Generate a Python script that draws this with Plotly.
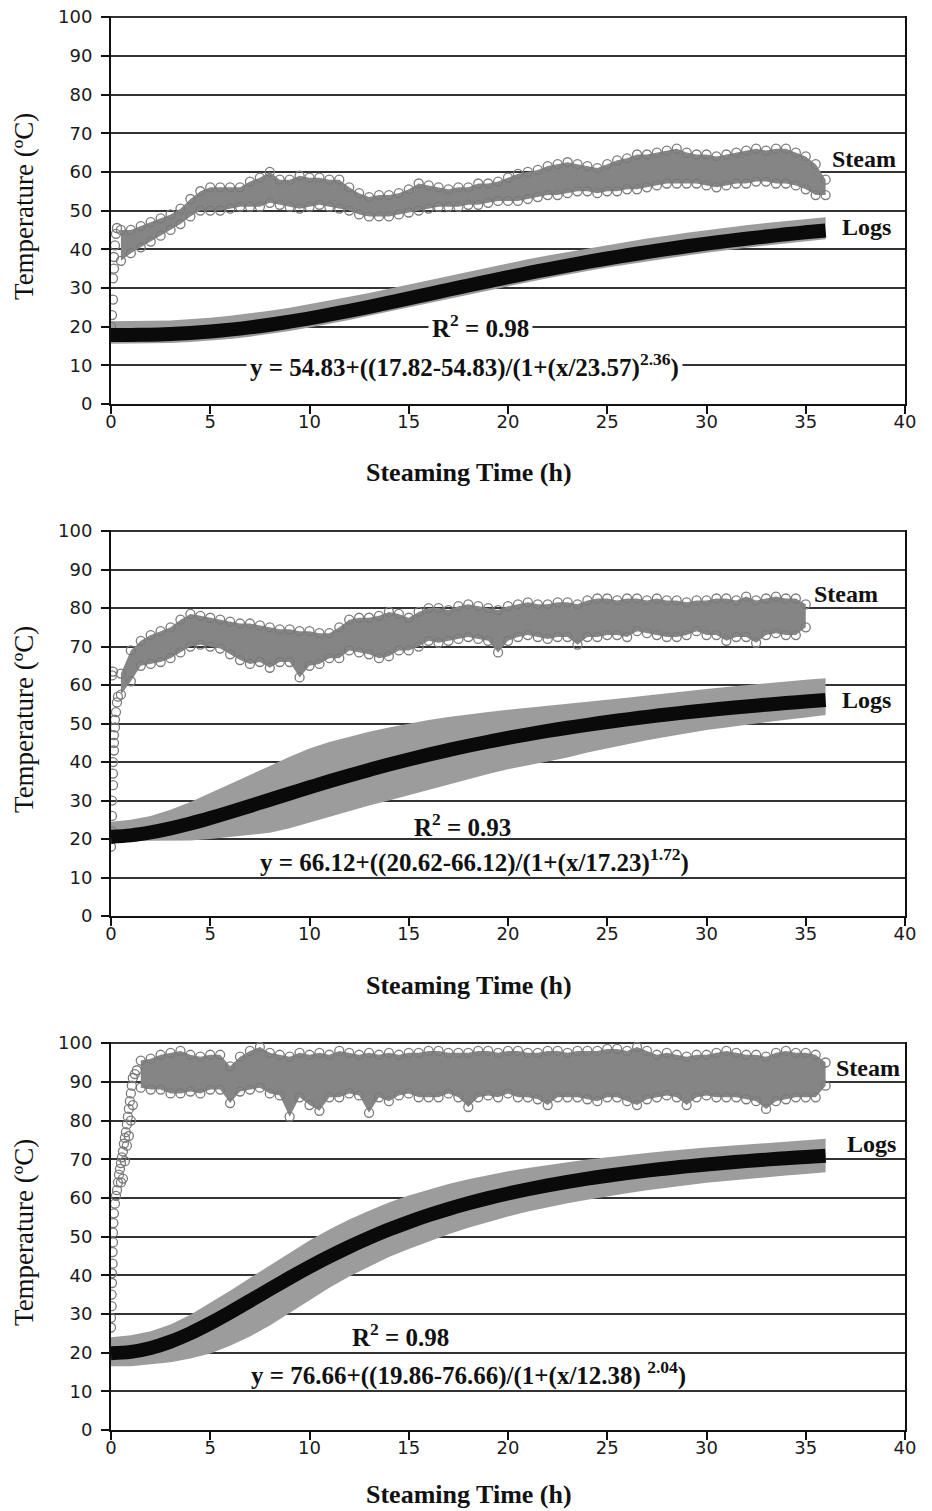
import plotly.graph_objects as go

# ---------------- data ----------------
hours = list(range(37))
x_ticks = [0, 5, 10, 15, 20, 25, 30, 35, 40]
x_ticklabels = ["0", "5", "10", "15", "20", "25", "30", "35", "40"]
y_ticks = [0, 10, 20, 30, 40, 50, 60, 70, 80, 90, 100]
y_ticklabels = [str(v) for v in y_ticks]

# Panel 1 -------------------------------------------------------------
logs1_fit = [17.82, 17.84, 17.93, 18.10, 18.37, 18.75, 19.23, 19.81, 20.50, 21.28, 22.14, 23.08, 24.07,
             25.12, 26.20, 27.30, 28.41, 29.53, 30.63, 31.72, 32.78, 33.82, 34.83, 35.79, 36.72, 37.61,
             38.46, 39.27, 40.04, 40.77, 41.45, 42.11, 42.73, 43.31, 43.86, 44.38, 44.87]
logs1_lo = [15.6, 15.6, 15.7, 15.8, 16.0, 16.4, 16.8, 17.4, 18.1, 18.9, 19.8, 20.7, 21.7, 22.8, 23.9,
            24.9, 26.1, 27.2, 28.3, 29.4, 30.5, 31.5, 32.5, 33.5, 34.4, 35.3, 36.1, 36.9, 37.7, 38.4,
            39.1, 39.8, 40.4, 41.0, 41.5, 42.0, 42.6]
logs1_hi = [21.4, 21.4, 21.5, 21.6, 21.9, 22.3, 22.8, 23.4, 24.1, 24.9, 25.8, 26.7, 27.7, 28.7, 29.8,
            30.9, 32.0, 33.1, 34.2, 35.3, 36.3, 37.4, 38.4, 39.3, 40.2, 41.1, 42.0, 42.8, 43.5, 44.3,
            44.9, 45.6, 46.2, 46.8, 47.3, 47.8, 48.3]
steam1_x = [i * 0.5 for i in range(1, 73)]
steam1_hi = [45, 45, 46, 47, 48, 49, 50.5, 53, 55, 56, 56, 56, 56, 57.5, 58.5, 60, 58, 58, 59, 58.5,
             58.5, 58, 58, 56, 54.5, 53.5, 54, 54, 54.5, 55.5, 57, 56.5, 56, 55.5, 56, 56, 57, 57,
             57.5, 58.5, 59.5, 60, 60.5, 61.5, 62, 62.5, 62, 61.5, 61, 62, 63, 63.5, 64.5, 64.5, 65,
             65.5, 66, 65, 64.5, 64.5, 64, 64.5, 65, 65.5, 66, 65.5, 66, 66, 65, 64, 62, 58]
steam1_lo = [37, 39, 40.5, 42, 43.5, 45, 46.5, 48.5, 50, 50, 50, 50.5, 51, 51, 51, 52, 51.5, 51, 50.5,
             51, 51.5, 51, 50.5, 50, 49, 48.5, 48.5, 48.5, 49, 49.5, 50, 50.5, 51, 51, 51, 51.5, 51.5,
             52, 52.5, 52.5, 52.5, 53, 53.5, 54, 54, 54.5, 55, 55, 54.5, 55, 55, 55.5, 55.5, 56, 56.5,
             57, 57, 57, 57, 56.5, 56, 56.5, 57, 57, 57.5, 57.5, 57, 57, 56.5, 55.5, 54, 54]
steam1_start_x = [0.0, 0.05, 0.1, 0.1, 0.15, 0.15, 0.2, 0.25, 0.3]
steam1_start_y = [20, 23, 27, 32.5, 35, 38, 41, 44, 45.5]

# Panel 2 -------------------------------------------------------------
logs2_fit = [20.62, 20.96, 21.71, 22.76, 24.03, 25.46, 26.99, 28.59, 30.21, 31.84, 33.44, 35.00, 36.51,
             37.96, 39.35, 40.67, 41.92, 43.11, 44.23, 45.28, 46.27, 47.20, 48.08, 48.91, 49.68, 50.41,
             51.10, 51.75, 52.36, 52.93, 53.47, 53.98, 54.45, 54.91, 55.34, 55.74, 56.12]
logs2_lo = [19.5, 19.5, 19.5, 19.5, 19.6, 20.0, 20.5, 21.0, 21.6, 22.8, 24.3, 25.8, 27.3, 28.7, 30.0,
            31.4, 32.8, 34.2, 35.6, 36.9, 38.1, 39.2, 40.2, 41.2, 42.5, 43.6, 44.7, 45.7, 46.6, 47.5,
            48.3, 49.0, 49.7, 50.4, 51.0, 51.6, 52.2]
logs2_hi = [24.5, 25.0, 26.0, 27.6, 29.6, 31.9, 34.2, 36.6, 39.0, 41.4, 43.5, 45.2, 46.6, 47.9, 49.0,
            50.0, 50.9, 51.7, 52.4, 53.0, 53.6, 54.1, 54.6, 55.1, 55.6, 56.1, 56.7, 57.3, 57.9, 58.5,
            59.0, 59.5, 60.0, 60.5, 61.0, 61.4, 61.8]
steam2_x = [i * 0.5 for i in range(1, 71)]
steam2_hi = [63, 69, 71.5, 73, 74, 75, 77, 78.5, 78, 77.5, 77, 76.5, 76, 76, 75.5, 75, 74.5, 74.5, 74,
             74, 73.5, 73.5, 75, 77, 77.5, 77.5, 78, 79, 78.5, 77.5, 79, 80, 80, 79.5, 80.5, 81, 80.5,
             80, 79.5, 80.5, 81, 81.5, 81, 81, 81.5, 81.5, 81, 82, 82.5, 82.5, 82, 82.5, 82.5, 82,
             82.5, 82, 82, 81.5, 82, 82, 82.5, 82.5, 82, 83, 82, 82.5, 83, 82.5, 82.5, 81]
steam2_lo = [57.5, 61, 65, 65.5, 66, 67, 68.5, 70, 70.5, 70, 69.5, 68, 66.5, 65.5, 66, 64.5, 66, 66, 62,
             65, 65.5, 67, 67, 69, 68.5, 68, 67, 67.5, 69, 69, 70, 71.5, 71, 71.5, 72, 72.5, 72, 71.5,
             68.5, 71.5, 72.5, 73, 72.5, 72, 72.5, 72.5, 70.5, 72.5, 72.5, 73, 73, 72.5, 74, 73.5, 73,
             72.5, 72.5, 73, 74, 73, 73, 71.5, 72.5, 72.5, 71, 73, 73.5, 73, 73, 75]
steam2_start_x = [0.0, 0.0, 0.05, 0.05, 0.05, 0.1, 0.1, 0.1, 0.15, 0.15, 0.15, 0.2, 0.2, 0.25, 0.3, 0.35, 0.05, 0.1]
steam2_start_y = [18, 20, 22, 26, 30, 34, 37, 40, 43, 45, 47, 49, 51, 53, 55.5, 57, 62.5, 63.5]

# Panel 3 -------------------------------------------------------------
logs3_fit = [19.86, 20.19, 21.21, 22.85, 25.01, 27.58, 30.41, 33.38, 36.39, 39.34, 42.17, 44.85, 47.36,
             49.67, 51.81, 53.75, 55.53, 57.14, 58.60, 59.94, 61.14, 62.24, 63.24, 64.15, 64.97, 65.73,
             66.41, 67.04, 67.62, 68.15, 68.64, 69.09, 69.51, 69.89, 70.25, 70.57, 70.88]
logs3_lo = [16.5, 16.5, 17.0, 17.5, 18.5, 19.8, 21.8, 24.2, 27.0, 30.3, 33.6, 36.8, 39.7, 42.3, 44.7,
            46.8, 48.8, 50.6, 52.3, 53.8, 55.2, 56.5, 57.6, 58.6, 59.5, 60.4, 61.2, 62.0, 62.7, 63.3,
            63.9, 64.4, 64.9, 65.4, 65.8, 66.2, 66.6]
logs3_hi = [24.0, 24.5, 25.5, 27.3, 29.8, 32.8, 36.0, 39.3, 42.6, 45.9, 49.0, 51.8, 54.4, 56.7, 58.8,
            60.6, 62.2, 63.6, 64.8, 65.9, 66.9, 67.7, 68.5, 69.2, 69.9, 70.5, 71.1, 71.6, 72.1, 72.6,
            73.0, 73.4, 73.8, 74.2, 74.6, 74.9, 75.3]
steam3_x = [i * 0.5 for i in range(3, 73)]
steam3_hi = [95.5, 96, 97, 97.5, 98, 97, 96.5, 97, 97, 94, 96.5, 98, 99, 97.5, 97, 96.5, 97.5, 97, 97.5,
             97, 98, 97.5, 97, 97.5, 97, 97.5, 97, 97.5, 97.5, 98, 98, 97.5, 97.5, 97.5, 98, 98, 97.5,
             98, 98, 97.5, 97.5, 98, 98, 97.5, 98, 98, 98, 98.5, 98.5, 98, 99, 98, 97, 97.5, 97, 96.5,
             97, 97, 97.5, 98, 97.5, 97, 97, 96.5, 97.5, 98, 97.5, 97.5, 97, 95]
steam3_lo = [88.5, 88, 88, 87, 87, 87.5, 87, 88, 88, 84.5, 87.5, 88, 88.5, 87, 86.5, 81, 86, 84, 82.5,
             86, 86, 87, 86.5, 82, 86, 85, 86.5, 87, 86, 86, 86, 87, 86, 83.5, 86, 86.5, 86, 87, 86, 86,
             85.5, 84, 86, 86, 86, 85.5, 85, 86, 86, 85, 84, 85.5, 86, 86.5, 86, 84, 86, 86.5, 86, 86,
             86, 85.5, 85, 83, 85, 85.5, 86, 86, 86, 89]
steam3_start_x = [0.0, 0.0, 0.03, 0.03, 0.05, 0.05, 0.08, 0.08, 0.1, 0.1, 0.12, 0.15, 0.2, 0.25, 0.3,
                  0.35, 0.4, 0.45, 0.5, 0.55, 0.6, 0.6, 0.65, 0.7, 0.75, 0.8, 0.8, 0.85, 0.9, 0.95, 1.0,
                  1.05, 1.1, 1.2, 1.3, 0.5, 0.7, 0.9, 1.0, 1.1]
steam3_start_y = [26.5, 29, 32, 35, 38, 40.5, 43, 46, 48.5, 51, 53.5, 56, 58.5, 60.5, 62, 64, 66, 67.5,
                  69, 70.5, 72, 65, 74, 75.5, 77, 73.5, 79, 81, 83, 85, 87, 89, 91, 92, 93, 64, 69.5,
                  76, 80, 84]

r2_texts = ["R<sup>2</sup> = 0.98", "R<sup>2</sup> = 0.93", "R<sup>2</sup> = 0.98"]
eq_texts = ["y = 54.83+((17.82-54.83)/(1+(x/23.57)<sup>2.36</sup>)",
            "y = 66.12+((20.62-66.12)/(1+(x/17.23)<sup>1.72</sup>)",
            "y = 76.66+((19.86-76.66)/(1+(x/12.38) <sup>2.04</sup>)"]

panels = [
    dict(fit=logs1_fit, lo=logs1_lo, hi=logs1_hi, sx=steam1_x, shi=steam1_hi, slo=steam1_lo,
         stx=steam1_start_x, sty=steam1_start_y, r2=(18.6, 20.1), eq=(17.8, 9.9), bg=True,
         steam_lbl=(36.2, 63.4), logs_lbl=(36.7, 45.7), dom=(16, 404), xtitle=473),
    dict(fit=logs2_fit, lo=logs2_lo, hi=logs2_hi, sx=steam2_x, shi=steam2_hi, slo=steam2_lo,
         stx=steam2_start_x, sty=steam2_start_y, r2=(17.7, 23.6), eq=(18.3, 14.5), bg=False,
         steam_lbl=(35.3, 83.7), logs_lbl=(36.7, 56.0), dom=(530, 916), xtitle=985),
    dict(fit=logs3_fit, lo=logs3_lo, hi=logs3_hi, sx=steam3_x, shi=steam3_hi, slo=steam3_lo,
         stx=steam3_start_x, sty=steam3_start_y, r2=(14.6, 24.5), eq=(18.0, 14.7), bg=False,
         steam_lbl=(36.4, 93.6), logs_lbl=(37.0, 74.0), dom=(1042, 1430), xtitle=1494),
]

W, H = 932, 1511
PL, PR = 111, 905                      # left / right edge of the plotting area
PW = PR - PL
STEAM_FILL = "#858585"
STEAM_LINE = "#7a7a7a"
LOG_GRAY = "#9c9c9c"
SERIF = "Liberation Serif"
SANS = "DejaVu Sans"

fig = go.Figure()
annotations = []
layout_axes = {}

for i, p in enumerate(panels, start=1):
    sfx = "" if i == 1 else str(i)
    xa, ya = "x" + sfx, "y" + sfx
    # logs band
    fig.add_trace(go.Scatter(x=hours, y=p["lo"], mode="lines", line=dict(width=0, color=LOG_GRAY),
                             xaxis=xa, yaxis=ya, showlegend=False, hoverinfo="skip"))
    fig.add_trace(go.Scatter(x=hours, y=p["hi"], mode="lines", line=dict(width=0, color=LOG_GRAY),
                             fill="tonexty", fillcolor=LOG_GRAY, xaxis=xa, yaxis=ya,
                             showlegend=False, hoverinfo="skip"))
    # steam band
    fig.add_trace(go.Scatter(x=p["sx"], y=p["slo"], mode="lines", line=dict(width=0, color=STEAM_FILL),
                             xaxis=xa, yaxis=ya, showlegend=False, hoverinfo="skip"))
    fig.add_trace(go.Scatter(x=p["sx"], y=p["shi"], mode="lines", line=dict(width=0, color=STEAM_FILL),
                             fill="tonexty", fillcolor=STEAM_FILL, xaxis=xa, yaxis=ya,
                             showlegend=False, hoverinfo="skip"))
    # steam circles
    for xs, ys in ((p["sx"], p["shi"]), (p["sx"], p["slo"]), (p["stx"], p["sty"])):
        fig.add_trace(go.Scatter(x=xs, y=ys, mode="markers",
                                 marker=dict(symbol="circle-open", size=9,
                                             line=dict(width=1.3, color=STEAM_LINE), color=STEAM_LINE),
                                 xaxis=xa, yaxis=ya, showlegend=False, hoverinfo="skip"))
    # fitted logs curve
    fig.add_trace(go.Scatter(x=hours, y=p["fit"], mode="lines",
                             line=dict(width=14, color="#0a0a0a", shape="spline"),
                             xaxis=xa, yaxis=ya, showlegend=False, hoverinfo="skip"))

    top, bot = p["dom"]
    layout_axes["xaxis" + sfx] = dict(
        domain=[0, 1], anchor=ya, range=[0, 40], tickvals=x_ticks, ticktext=x_ticklabels,
        showgrid=False, zeroline=False, showline=True, linecolor="#111", linewidth=2,
        ticks="outside", ticklen=8, tickwidth=2, tickcolor="#111", ticklabelstandoff=-8,
        tickfont=dict(family=SANS, size=18, color="#1a1a1a"), fixedrange=True)
    layout_axes["yaxis" + sfx] = dict(
        domain=[1 - bot / H, 1 - top / H], anchor=xa, range=[0, 100.3], tickvals=y_ticks,
        ticktext=y_ticklabels, showgrid=True, gridcolor="#333", gridwidth=1.5, zeroline=False,
        showline=True, mirror=True, linecolor="#111", linewidth=2, ticks="outside", ticklen=8,
        tickwidth=2, tickcolor="#111", ticklabelstandoff=5, ticklabeloverflow="allow",
        tickfont=dict(family=SANS, size=18, color="#1a1a1a"), fixedrange=True)

    bgc = "white" if p["bg"] else "rgba(0,0,0,0)"
    annotations += [
        dict(x=p["r2"][0], y=p["r2"][1], xref=xa, yref=ya, text="<b>%s</b>" % r2_texts[i - 1],
             showarrow=False, font=dict(family=SERIF, size=25, color="#111"), bgcolor=bgc, borderpad=3),
        dict(x=p["eq"][0], y=p["eq"][1], xref=xa, yref=ya, text="<b>%s</b>" % eq_texts[i - 1],
             showarrow=False, font=dict(family=SERIF, size=25, color="#111"), bgcolor=bgc, borderpad=3),
        dict(x=p["steam_lbl"][0], y=p["steam_lbl"][1], xref=xa, yref=ya, text="<b>Steam</b>",
             xanchor="left", showarrow=False, font=dict(family=SERIF, size=24, color="#111")),
        dict(x=p["logs_lbl"][0], y=p["logs_lbl"][1], xref=xa, yref=ya, text="<b>Logs</b>",
             xanchor="left", showarrow=False, font=dict(family=SERIF, size=24, color="#111")),
        dict(x=(469 - PL) / PW, y=1 - p["xtitle"] / H, xref="paper", yref="paper",
             text="<b>Steaming Time (h)</b>", showarrow=False,
             xanchor="center", yanchor="middle", font=dict(family=SERIF, size=26, color="#111")),
        dict(x=(24 - PL) / PW, y=1 - (top + bot) / 2 / H + 0.002, xref="paper", yref="paper",
             text="Temperature (ºC)", textangle=-90,
             xanchor="center", yanchor="middle", showarrow=False,
             font=dict(family=SERIF, size=27, color="#111")),
    ]

fig.update_layout(
    width=W, height=H, paper_bgcolor="white", plot_bgcolor="white",
    margin=dict(l=PL, r=W - PR, t=0, b=0, autoexpand=False),
    showlegend=False, annotations=annotations, **layout_axes)

# remove the default 8px page margin so the figure sits at the window's top-left corner
fig.write_html("out.html", config={"displayModeBar": False},
               post_script="document.body.style.margin='0';")
